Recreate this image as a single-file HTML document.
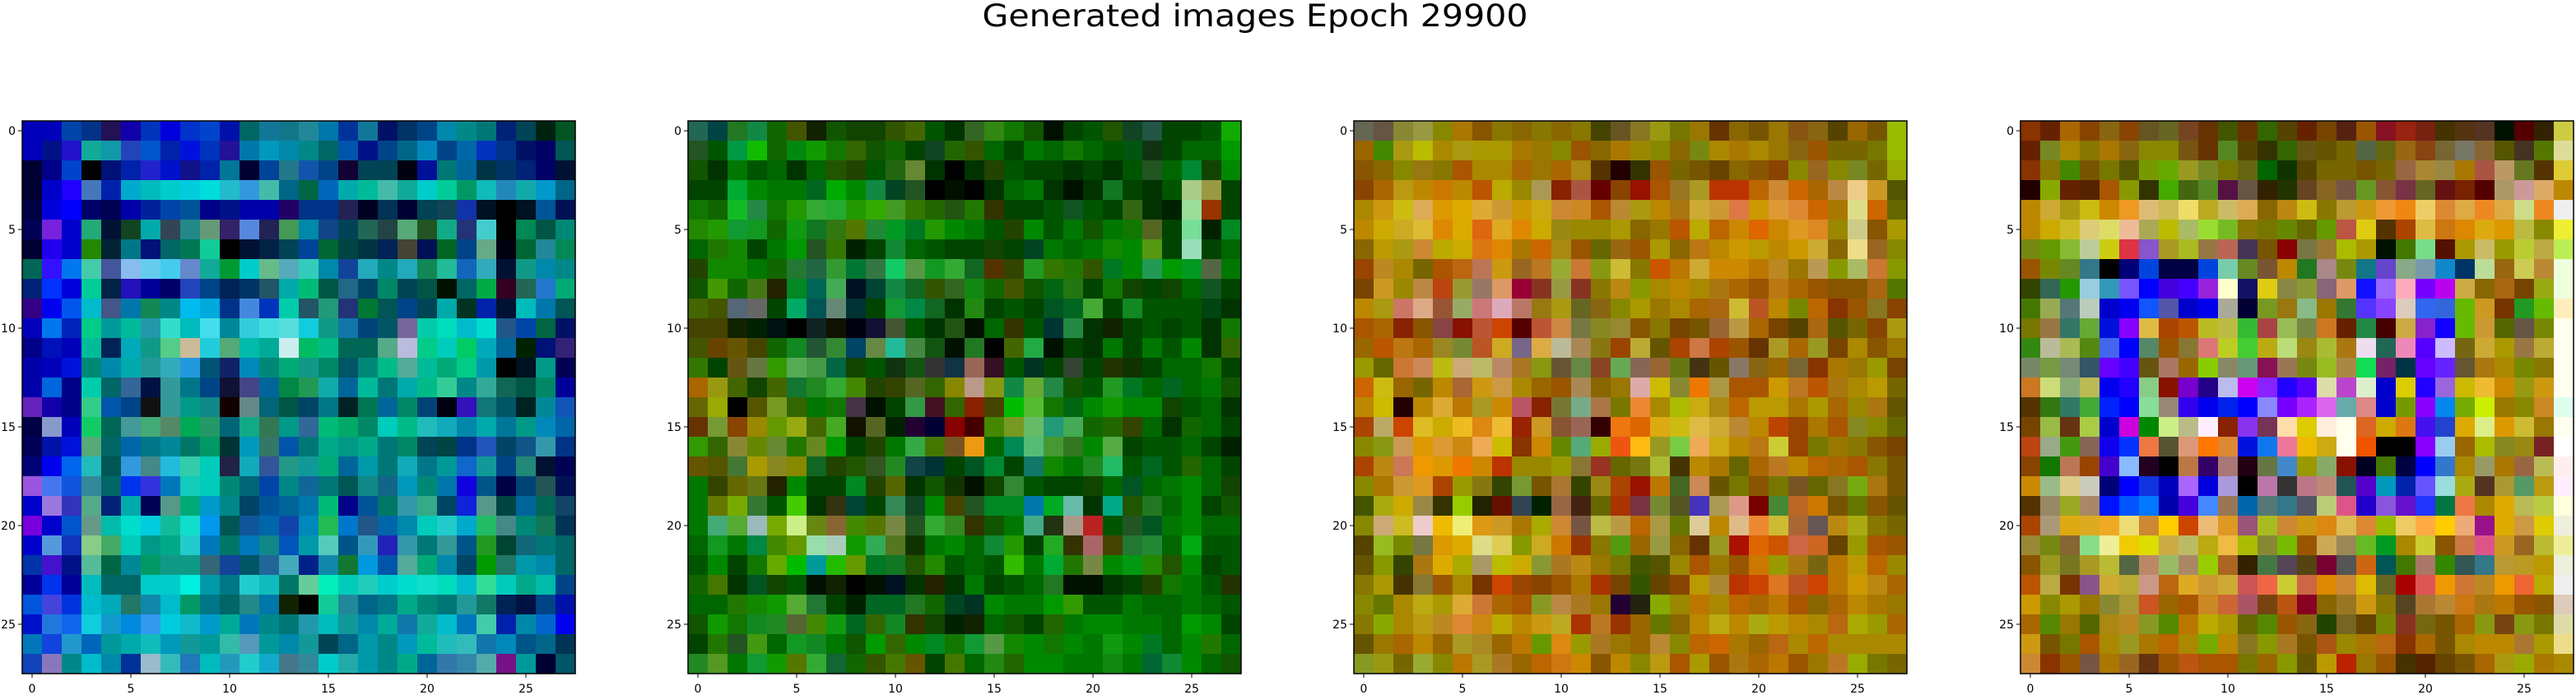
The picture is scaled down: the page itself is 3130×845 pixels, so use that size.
<!DOCTYPE html>
<html><head><meta charset="utf-8"><title>Generated images Epoch 29900</title>
<style>html,body{margin:0;padding:0;background:#fff;}svg{display:block;}</style></head>
<body>
<svg id="fig" xmlns="http://www.w3.org/2000/svg" width="3130" height="845" viewBox="0 0 3130 845">
<rect width="3130" height="845" fill="#fff"/>
<text x="1525" y="32" text-anchor="middle" font-family="DejaVu Sans, Liberation Sans, sans-serif" font-size="37" textLength="663" lengthAdjust="spacingAndGlyphs">Generated images Epoch 29900</text>
</svg>
<script>
const tickValues = [0, 5, 10, 15, 20, 25];
const panel1Rows = [
"00b 00b 04a 038 215 10a 03b 00d 03c 04c 01a 066 179 178 289 07a 039 179 016 036 048 08a 088 077 027 045 021 052",
"00b 018 21c 1a9 19a 24b 05c 02a 01d 03b 219 07a 09b 08a 088 066 05a 018 048 068 08b 048 06a 03b 038 016 006 055",
"003 008 04c 000 017 02a 22c 01c 118 02a 079 003 049 278 15a 048 103 045 045 001 019 077 069 034 036 027 006 013",
"003 00c 20f 47b 02a 0ac 0bb 0cc 0cd 0dd 2bc 39d 4ba 068 064 06b 0aa 0b9 4ba 1a9 0cc 0c9 096 1bb 28b 1aa 09c 068",
"004 00d 00f 006 005 00a 029 04a 059 008 018 00a 00a 206 038 038 225 002 035 003 045 145 13a 012 000 012 059 015",
"005 72d 00c 2a7 013 142 0aa 345 288 697 326 58d 225 495 08a 148 045 265 244 5a7 252 1a8 237 4cc 000 085 054 087",
"003 20e 00c 280 023 078 017 066 075 1c9 000 013 024 045 049 063 044 034 025 443 015 062 048 6a8 001 063 289 085",
"065 31f 07e 4ca 459 8be 6ce 4ce 68c 1a9 093 0cc 6b8 5ab 3cb 08a 149 2ab 088 2ab 185 2b9 16b 3ab 013 198 08a 088",
"027 03f 00d 0c9 024 21b 009 006 24b 048 025 036 256 0aa 0b7 054 268 046 086 045 054 010 066 0a4 302 265 27c 0a7",
"308 00e 05e 0bc 458 07a 185 088 0be 0ad 038 48d 03b 0ca 256 297 237 073 055 048 045 0aa 032 02a 013 0bb 07a 055",
"00b 07e 02b 0c8 099 0b9 29a 3dc 0bb 4de 089 3cd 4dd 5dd 1cd 198 17a 047 056 769 0ca 0db 0bc 0dc 258 04a 064 016",
"008 01b 00b 0b9 025 0ab 198 5c8 cb9 2cd 5a7 0ba 0a9 cee 0b6 0b8 065 065 5a8 bbd 0c8 0cb 0c6 0ab 069 020 017 327",
"00a 00b 01d 087 08a 0aa 299 3ab 29d 057 126 08b 087 0a7 198 086 056 087 0b8 5a9 0b9 0a7 0c8 09a 000 012 098 005",
"00a 06d 008 0ca 066 369 014 399 078 048 113 448 069 084 295 1aa 069 0b9 077 0aa 0b8 3c9 088 3a9 165 054 086 009",
"62b 10a 008 3c8 05a 048 111 399 098 188 100 688 067 054 046 078 022 075 069 086 047 001 31b 177 056 022 089 15b",
"004 89c 00b 1c6 065 499 4a7 586 0a5 296 067 1a8 375 098 369 0b7 0a6 086 0cb 0b8 2bb 1ab 08a 0aa 079 098 08b 06a",
"005 01a 01d 5a7 066 06a 078 089 076 096 033 09b 376 05a 077 0a8 098 0a8 077 086 045 044 038 25b 046 158 39a 038",
"007 00e 06e 2bb 055 39d 488 2bd 3ca 0cb 224 1ab 359 298 199 0a7 069 09a 077 1ab 078 099 16c 199 048 287 013 005",
"95d 47e 15d 389 066 03e 33d 07b 1cb 0cb 087 067 04a 088 169 077 055 188 168 09b 087 07a 10d 058 004 047 255 015",
"00c 97d 33b 5a8 027 0aa 005 598 0a7 09c 088 046 059 069 07a 0b7 008 059 076 39a 3a8 046 12d 598 044 069 065 146",
"70d 00c 05c 698 0ba 0dc 0cd 1b9 1dc 09e 055 159 06a 14a 08b 2b5 07c 258 06a 08a 0cb 2cc 0ac 2b6 488 087 175 035",
"00c 59d 13b 8c8 4a6 0cb 098 0a8 2cc 07b 076 07b 188 05b 09a 5cb 058 39b 22b 39a 077 399 058 292 043 167 077 066",
"03a 41c 018 5b9 064 089 096 198 198 367 149 056 269 4ab 028 18a 173 09d 05a 5a9 0a7 08a 046 090 276 09a 08a 066",
"009 03e 009 0bb 066 066 0cc 0cc 0ed 09a 078 2cc 1bb 076 6c9 0eb 0cb 2cb 0cc 0dc 1dc 0db 0bc 3d9 0cb 0a8 0ba 048",
"05d 44d 03d 0bc 0ab 276 18a 0bc 096 078 066 288 07a 120 000 1c9 289 068 078 0a8 087 077 299 176 025 014 048 01a",
"01c 27d 16e 1cd 19c 08d 39e 0cd 1bc 09c 0a9 07b 088 077 29a 0bb 199 08a 0a9 17a 1a9 0bc 07b 4ca 02a 08a 06c 00e",
"07b 14d 29c 06b 099 0aa 1bb 09b 199 099 3ba 59b 099 08a 199 045 068 09a 088 09b 0b9 2bb 3bb 17a 08b 058 068 035",
"14b 87b 088 0bc 08a 039 9bc 3bb 27b 0bb 29b 2cc 1ac 478 389 0cc 2aa 09a 088 0a8 069 37a 38a 5aa 718 099 003 056"
];
const panel2Rows = [
"265 044 272 184 160 450 120 150 140 140 350 460 050 030 362 381 170 150 010 040 050 250 142 254 040 040 050 1a0",
"252 050 094 1b0 160 081 190 170 360 150 160 040 142 260 350 060 040 070 060 170 060 050 051 131 040 060 060 090",
"150 030 070 050 060 030 060 250 240 050 261 683 030 000 030 240 050 040 040 030 040 030 050 252 060 083 140 080",
"040 040 0a3 080 070 070 062 0a0 080 184 042 252 000 010 000 030 060 070 030 010 030 172 040 030 050 ac8 994 040",
"170 160 1b2 284 170 290 3a3 2a3 290 3a0 492 370 260 251 270 330 040 040 050 152 050 040 361 030 020 9d9 930 040",
"280 290 193 192 160 191 172 371 570 283 092 072 290 080 070 050 240 080 050 070 150 070 170 562 040 7d9 020 082",
"060 270 180 040 070 090 252 370 020 040 183 060 050 040 040 140 040 042 070 060 070 180 080 591 040 9db 040 060",
"240 180 180 070 160 273 264 393 073 374 1c6 594 192 3a3 162 530 340 292 370 270 350 072 080 295 090 092 564 070",
"150 490 160 471 220 082 065 4a5 012 043 184 162 350 362 181 160 450 150 061 271 040 170 140 040 140 060 152 040",
"460 450 567 666 040 0a6 055 687 033 040 193 084 162 030 281 040 050 040 052 062 4a3 040 182 050 050 050 041 030",
"440 440 120 020 011 000 122 110 001 113 453 050 030 251 010 060 330 050 033 284 030 120 040 050 040 050 030 170",
"450 640 650 440 160 182 253 383 046 684 2b9 484 151 010 272 000 460 2a4 010 040 030 070 040 070 050 080 030 360",
"370 040 651 674 390 5a5 494 064 140 050 131 151 333 134 965 312 050 032 040 343 040 230 130 040 060 060 170 040",
"a60 991 460 140 460 173 282 3a3 480 240 340 562 360 880 b98 891 184 6a3 284 150 050 292 072 060 062 060 070 150",
"660 9a0 000 550 792 360 070 170 434 010 040 394 412 360 820 440 0b0 5b3 170 061 080 190 080 080 140 050 060 030",
"630 793 840 980 690 9a1 460 4a2 110 562 020 203 003 800 400 480 792 6b6 297 4a5 160 260 340 060 030 160 060 040",
"390 360 883 680 683 270 682 090 040 240 070 3a4 470 752 e91 060 085 5b7 493 372 080 5a4 040 050 050 060 040 020",
"650 550 473 a90 882 880 162 240 250 352 282 144 033 040 052 083 040 176 180 070 282 2b6 050 062 050 260 060 040",
"070 340 660 671 220 080 040 040 082 240 560 030 150 130 010 140 383 050 040 040 140 060 052 060 070 080 060 140",
"070 670 7a0 373 050 4c0 030 331 043 040 385 142 080 440 252 082 082 07a 0a2 6ba 030 0a8 250 272 060 080 040 150",
"070 4a7 5a3 9bb 7a0 ce8 681 863 480 570 784 252 3a3 382 330 150 070 4a8 231 a98 b22 050 252 052 070 080 060 060",
"060 192 070 084 480 690 9da acb 190 3a5 572 130 070 080 060 183 290 040 2a2 330 a66 440 273 283 060 0a1 050 050",
"050 080 040 170 6a0 0b0 099 2b0 690 072 172 250 280 050 060 050 3b0 070 0a3 270 784 080 091 280 250 080 040 050",
"160 470 030 052 140 050 010 120 000 010 012 030 220 030 070 040 050 060 272 010 010 030 040 240 170 070 050 230",
"060 060 270 180 190 5a3 273 040 020 062 062 272 160 042 032 080 070 070 090 390 050 050 070 060 060 070 060 050",
"150 190 170 182 282 563 480 191 062 360 182 330 140 020 120 060 150 040 260 070 080 080 070 070 060 090 080 040",
"040 270 252 491 060 192 182 070 150 090 360 080 082 170 193 594 180 080 170 080 070 191 080 072 060 080 270 060",
"282 592 070 193 190 570 3a3 163 160 350 470 650 040 470 060 281 260 080 080 070 070 181 070 063 183 080 060 150"
];
const panel3Rows = [
"665 654 883 994 880 a70 850 870 860 870 860 870 440 652 872 991 770 970 630 860 750 970 851 861 540 960 750 9b0",
"960 480 a91 bb0 a80 a91 a90 a90 a70 970 880 950 860 a70 980 880 860 781 a80 a70 a80 970 861 950 760 760 770 9b0",
"850 860 880 971 870 a50 a80 a80 a60 970 a60 a81 530 200 330 950 760 750 640 860 850 840 880 962 880 782 760 9a0",
"840 a60 b91 b80 c70 b80 b50 ba0 980 a95 820 a54 600 840 910 a50 972 a92 b30 b30 b60 c83 c60 a60 b84 ec8 c92 550",
"a80 c91 cb1 da5 d90 da0 da3 c93 c90 ca1 c83 c82 a50 b83 a91 b80 a71 ca3 c93 d74 c90 d93 d83 c60 a70 dd8 c60 660",
"b80 ca0 ca2 db3 d80 da0 d61 da2 d80 ca0 981 980 980 a90 860 970 b50 ba0 b60 c80 d60 c80 d92 d82 980 cc8 850 a90",
"860 b90 a91 c83 ba0 ca0 d71 d80 a70 c60 a81 950 660 961 950 a90 860 b71 b80 c90 b90 b80 c90 ca3 860 ed8 962 880",
"940 b82 a80 760 a50 b61 b75 c91 962 b72 9a3 c73 891 cb3 870 c50 b70 ca3 c80 c80 b70 b82 970 b95 890 ab6 c73 890",
"740 c92 980 b84 b41 993 976 d96 903 832 994 832 870 b81 890 a80 b80 a80 a71 a60 950 b71 a60 950 850 850 a61 570",
"b80 a91 c76 da8 953 9a6 c77 dab b76 971 a91 662 861 880 a90 970 a80 a60 a61 cb3 b52 b80 780 b60 830 950 872 840",
"a50 a60 820 850 844 810 b53 c40 500 b53 c84 774 882 983 850 870 740 750 963 b94 a60 740 540 a61 550 760 840 a91",
"960 b50 b71 a60 982 783 b52 ca2 768 da4 bb9 a85 871 940 ba3 650 a40 c74 a40 950 630 a92 a60 992 740 a80 850 970",
"990 660 c73 c85 bb1 ca7 bb6 b86 a72 891 653 684 842 6a5 865 963 671 431 650 876 861 960 763 830 a70 970 990 740",
"c60 cb1 960 760 b80 a63 c91 c94 a80 960 950 a85 860 970 daa cb0 883 e70 a94 a50 a50 c90 b72 b50 a71 a80 b90 760",
"b80 cb0 200 b80 da3 b70 a92 c80 b56 820 773 7a8 a74 770 e83 a80 ab0 ca1 a81 b60 b90 b90 a70 a90 a60 980 a71 650",
"a40 ba6 c40 db2 ca0 eb2 d81 eb3 920 c92 853 965 300 e71 d60 da1 cb1 db4 ca3 b83 b80 b40 940 a70 a50 882 880 660",
"880 891 c95 d90 d93 c81 ea5 cb0 830 c80 680 5a7 9a0 e51 fb1 992 7c4 ea5 ca1 b80 b71 cc3 940 770 970 870 850 740",
"a40 b81 c75 e90 d90 e70 c80 b30 980 980 990 873 932 660 771 ab3 430 b80 a70 660 a60 b72 b80 b60 a60 a50 870 750",
"880 a70 c93 d92 a40 990 871 340 793 750 a73 340 981 a40 910 b70 462 c85 650 770 850 770 752 660 872 7a1 a71 750",
"450 aa1 ca0 984 330 9c0 220 610 345 020 964 421 660 a30 734 783 552 43b a95 d98 700 483 b62 c70 750 670 850 650",
"880 ca7 cb2 ecc eb0 ee7 d91 c92 a70 aa0 c83 754 bb4 b94 b60 a94 670 dc9 b80 db8 e83 cb3 a63 655 b81 aa1 870 760",
"540 9b2 780 774 d90 da0 dd8 dc5 890 ca2 c70 930 870 591 960 994 860 630 992 a10 d60 c50 c64 c62 640 990 a50 950",
"650 890 340 a71 da0 aa0 a96 bb0 ca0 893 a72 b81 970 770 450 550 980 a50 970 950 c70 990 a71 761 b70 b90 b60 980",
"870 a90 430 873 950 a80 730 c40 940 840 950 a70 a30 740 350 640 840 b90 a83 b30 c40 d72 b52 c40 b70 c90 b81 a60",
"880 670 a80 ba1 a90 da3 c73 a60 a50 892 b84 a72 970 203 221 8a0 980 b70 a80 b60 a60 b70 a50 860 a60 b80 a70 970",
"870 8a0 a80 b91 b82 d83 c81 ba0 b80 c91 ba2 a30 b72 930 960 670 860 b80 ba1 b80 aa1 b90 b80 a80 b61 aa0 990 a60",
"650 970 a60 b80 960 a92 a82 960 b70 690 d81 990 a72 970 960 b83 880 b60 c60 a70 960 b61 a80 b60 a80 a80 a80 a80",
"892 991 760 9a3 880 b70 a92 a72 960 b60 c71 c80 850 b80 880 b91 a50 a90 950 a71 a60 b70 950 970 b72 9a0 770 760"
];
const panel4Rows = [
"830 620 a60 840 861 840 652 662 742 630 450 630 360 540 620 740 521 950 812 921 721 430 531 532 010 500 320 cc4",
"620 782 a80 870 a70 861 880 880 751 630 582 540 330 360 651 650 760 564 661 961 841 763 776 863 550 432 570 dd9",
"830 870 480 750 770 550 790 6a0 992 782 770 661 060 130 540 760 760 750 760 964 a83 984 a70 a54 b96 672 530 dc3",
"200 8a0 620 520 a50 890 330 4a0 461 582 514 654 320 230 642 862 754 692 853 734 662 611 720 500 a96 c99 da6 b80",
"b80 ca3 a91 cb1 c80 e92 db7 cb5 ed6 ba2 cb6 da5 860 b81 cb1 870 b93 c91 e93 e81 ec6 d83 da4 e82 da4 cd8 e82 eee",
"b80 ca0 cb2 dc7 dd6 eb9 aa5 bb0 ab6 9d3 7b2 870 770 680 660 690 b54 dc1 530 a40 db4 c71 d80 da1 d90 bb4 880 ee3",
"781 690 8b3 bc9 cc1 d34 85c a92 ab2 974 b65 435 750 800 774 973 ab0 a90 010 470 7d8 510 a90 cb6 990 bc3 ba4 be5",
"950 780 682 378 000 007 04d 004 004 04d 7ca 682 753 b80 272 a88 781 178 64c 8a8 79a 18c 036 bd9 961 cc5 b83 efd",
"340 365 290 9cd 39b 75f 00f 40d 40f 92d ffc 116 dc1 884 893 867 d96 11f 96f fab 70f b0e ca4 860 a61 740 9a1 efd",
"470 9a5 577 bcb 00c 00e 15f 55a 00c 00e aa9 003 792 971 8b8 970 373 53f 84f dcb 36e 36d 6b0 c92 730 292 6b0 feb",
"770 974 376 6a3 01d 80f db4 a40 b50 bb2 bb4 3b3 a44 9b5 784 c72 620 284 400 ca4 82c 10f 6b0 c93 560 654 780 ffe",
"381 bb9 ab5 581 46e 00f 586 950 873 d77 bc2 4c3 ba1 bd7 981 ab3 a71 ede 265 e8b 50f cbf 761 ca3 a90 974 ba3 ffe",
"786 794 787 356 60f 40f 651 a76 960 8c0 886 697 815 975 781 9b2 a84 1d5 726 034 60f 62f 653 a71 a80 780 870 ffe",
"c72 cd7 8a7 bb5 00e 20f 8c8 810 70c 208 bbe c0e 82f 20f 50f dda b4c dec 00c dc0 20f 96d cb0 eb3 c80 991 c91 ffe",
"530 371 376 4a3 02f 00f 8d9 987 30e 00e 02e 00f 88f 70f a2f d6e 6aa d88 00c 790 80f 08e 7a0 ce0 970 880 c82 dfe",
"740 9b4 631 ac4 00c c0d 080 ce8 bb8 fef 820 83e 735 fda dc0 fed ffe d62 ca0 d71 41e 24c da0 de8 d90 cb3 970 ffe",
"b41 9a8 491 865 10e 03f e74 553 d97 f70 d83 01d 17e e79 eb0 ca1 ffe e50 000 000 80f 9ce 960 ab0 882 981 722 fff",
"840 170 b75 940 40c 8bf 202 000 b74 306 a77 201 674 48c 990 8a6 810 002 470 004 00f 37c a80 996 a70 964 bb5 fee",
"c80 9b8 dc8 ccb 007 00f 13d 00b a6f 00d a9d 000 b7a 333 b78 b87 255 50c 09b 02a 65f 9dd aa1 532 a93 596 b91 fef",
"530 986 9a2 a86 01f 05f 07f 00a 40d 48f 975 06a 577 378 556 bc7 d58 20c 85d 61c 23f 074 e74 a80 da0 bb5 bc4 ffd",
"a40 a97 da1 da2 ea2 ed7 c83 fc0 c40 eb7 d92 957 ab2 c83 c91 d81 db5 d83 9b0 ec6 fa4 fc0 ea7 918 da0 c94 dc0 eed",
"983 781 863 8d8 ee9 ec0 dd0 ca4 bb6 ba1 eb4 ab0 883 7b0 950 ca5 985 6b2 092 a80 cc3 850 c74 d58 c92 962 bb3 ee9",
"850 992 772 a92 bb3 564 b86 9b6 a86 9c0 a62 320 474 545 541 703 555 c61 055 470 a76 380 355 378 b93 b92 b90 eed",
"b50 ba4 730 858 ca3 ba3 c98 b61 da2 c93 ca3 c55 e64 cc3 c64 d80 c83 db0 662 a00 d55 e90 c73 b82 e90 e63 ba0 eee",
"c90 880 a90 970 883 a93 c52 960 a50 c82 c63 a56 741 b51 802 860 972 c91 870 542 a73 b83 c71 a71 b70 950 850 dcb",
"a60 580 970 560 a81 b82 892 580 b70 ba0 a90 660 580 950 861 240 762 640 780 832 761 750 a60 891 741 891 770 dda",
"c91 750 770 a50 a80 992 a70 b60 a80 7a0 b80 872 890 a72 750 a51 980 a70 b61 830 a60 750 a80 b80 b80 a73 a90 ed8",
"c83 830 950 754 a70 962 631 950 b51 a50 a50 770 960 890 650 b90 b20 970 950 430 520 640 750 a60 a91 9a0 a70 a80"
];
const panels = [panel1Rows, panel2Rows, panel3Rows, panel4Rows];

const NS = "http://www.w3.org/2000/svg";
const svg = document.getElementById('fig');
const AX_LEFT = [27, 836, 1645, 2455];
const AX_TOP = 147;
const N = 28;
const CELL = 24;
const SIZE = N * CELL;
function xScale(p, col) { return AX_LEFT[p] + col * CELL; }
function yScale(row) { return AX_TOP + row * CELL; }
function mk(tag, attrs) { const e = document.createElementNS(NS, tag); for (const k in attrs) e.setAttribute(k, attrs[k]); return e; }

panels.forEach((rows, p) => {
  const g = mk('g', {});
  
  
  svg.appendChild(g);
  rows.forEach((rowStr, r) => {
    let vals = rowStr.trim().split(/\s+/);
    while (vals.length < N) vals.push(vals[vals.length - 1]);
    vals = vals.slice(0, N);
    vals.forEach((v, c) => {
      const rect = mk('rect', { x: xScale(p, c), y: yScale(r), width: CELL + 0.5, height: CELL + 0.5, fill: '#' + v });
      
      
      g.appendChild(rect);
    });
  });
  const frame = mk('rect', { x: AX_LEFT[p], y: AX_TOP, width: SIZE, height: SIZE, fill: 'none', stroke: '#000', 'stroke-width': 1.5 });
  
  
  svg.appendChild(frame);
  tickValues.forEach(t => {
    const cx = xScale(p, t) + CELL / 2;
    const cy = yScale(t) + CELL / 2;
    const xt = mk('line', { x1: cx, x2: cx, y1: AX_TOP + SIZE, y2: AX_TOP + SIZE + 5, stroke: '#000', 'stroke-width': 1 });
    
    
    svg.appendChild(xt);
    const xl = mk('text', { x: cx, y: 842, 'text-anchor': 'middle', 'font-family': 'DejaVu Sans, Liberation Sans, sans-serif', 'font-size': 14 });
    xl.textContent = t;
    
    
    svg.appendChild(xl);
    const yt = mk('line', { x1: AX_LEFT[p] - 5, x2: AX_LEFT[p], y1: cy, y2: cy, stroke: '#000', 'stroke-width': 1 });
    
    
    svg.appendChild(yt);
    const yl = mk('text', { x: AX_LEFT[p] - 8, y: cy + 5, 'text-anchor': 'end', 'font-family': 'DejaVu Sans, Liberation Sans, sans-serif', 'font-size': 14 });
    yl.textContent = t;
    
    
    svg.appendChild(yl);
  });
});
</script>
</body></html>
